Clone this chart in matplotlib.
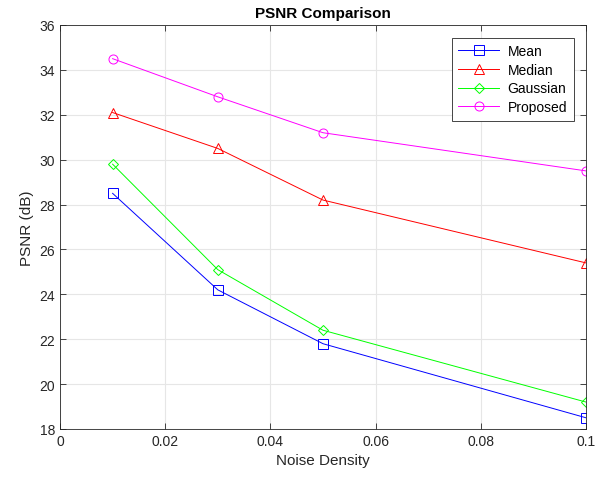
import numpy as np
import matplotlib
matplotlib.use('Agg')
import matplotlib.pyplot as plt

noise_density = [0.01, 0.03, 0.05, 0.1]
psnr_mean = [28.5, 24.2, 21.8, 18.5]
psnr_median = [32.1, 30.5, 28.2, 25.4]
psnr_gaussian = [29.8, 25.1, 22.4, 19.2]
psnr_proposed = [34.5, 32.8, 31.2, 29.5]

plt.rcParams['font.family'] = ['Liberation Sans', 'DejaVu Sans']

fig = plt.figure(figsize=(5.98, 4.81), dpi=100)
ax = fig.add_axes([60/598, 51/481, 526/598, 404/481])

styles = [
    (psnr_mean, '#0000ff', 's', 'Mean'),
    (psnr_median, '#ff0000', '^', 'Median'),
    (psnr_gaussian, '#00ff00', 'D', 'Gaussian'),
    (psnr_proposed, '#ff00ff', 'o', 'Proposed'),
]
for vals, c, m, lab in styles:
    ms = 5.5 if m == 'D' else 6.5
    ax.plot(noise_density, vals, color=c, marker=m, markerfacecolor='none',
            markeredgecolor=c, markersize=ms, linewidth=0.7, markeredgewidth=0.7,
            label=lab)

ax.set_xlim(0, 0.1)
ax.set_ylim(18, 36)
ax.set_xticks([0, 0.02, 0.04, 0.06, 0.08, 0.1])
ax.set_xticklabels(['0', '0.02', '0.04', '0.06', '0.08', '0.1'])
ax.set_yticks(np.arange(18, 37, 2))
ax.grid(True, color='#e6e6e6', linewidth=0.8)
ax.set_axisbelow(True)
ax.tick_params(direction='in', top=True, right=True, labelsize=10, colors='#262626',
               length=4, width=0.6)
for s in ax.spines.values():
    s.set_color('#262626')
    s.set_linewidth(0.6)

ax.set_xlabel('Noise Density', fontsize=11, color='#262626')
ax.set_ylabel('PSNR (dB)', fontsize=11, color='#262626')
ax.set_title('PSNR Comparison', fontsize=11, fontweight='bold', pad=6)

leg = ax.legend(loc='upper right', fontsize=10, fancybox=False, framealpha=1,
                edgecolor='#262626', handlelength=3.0, borderaxespad=0.9,
                labelspacing=0.35, borderpad=0.45, handletextpad=0.6)
leg.get_frame().set_linewidth(0.6)

plt.savefig('out.png', dpi=100)
